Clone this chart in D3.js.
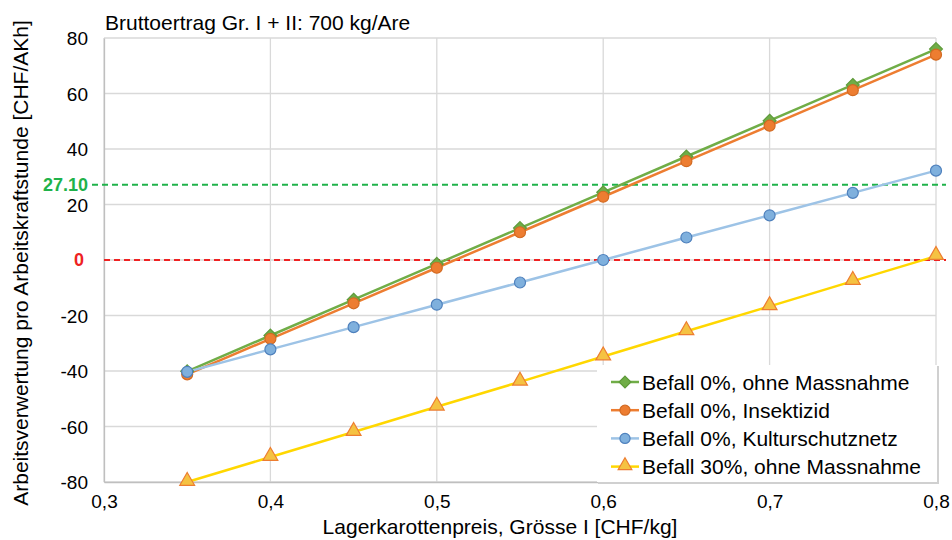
<!DOCTYPE html>
<html>
<head>
<meta charset="utf-8">
<script src="https://cdn.jsdelivr.net/npm/d3@7/dist/d3.min.js"></script>
<style>
  html, body { margin: 0; padding: 0; background: #fff; }
  svg { display: block; }
  svg text { font-family: "Liberation Sans", Arial, sans-serif; }
</style>
</head>
<body>
<svg id="chart" width="952" height="540"></svg>
<script>
// Carrot storage price (CHF/kg)
const prices = [0.35, 0.40, 0.45, 0.50, 0.55, 0.60, 0.65, 0.70, 0.75, 0.80];

// Labour return per working hour (CHF/AKh)
const befall0Ohne = [-40.1, -27.2, -14.3, -1.4, 11.5, 24.4, 37.3, 50.2, 63.1, 76.0];
const befall0Insektizid = [-41.2, -28.4, -15.6, -2.8, 10.0, 22.8, 35.6, 48.4, 61.2, 74.0];
const befall0Netz = [-40.3, -32.2, -24.2, -16.1, -8.1, 0.0, 8.1, 16.1, 24.2, 32.2];
const befall30Ohne = [-80.0, -71.0, -62.0, -52.9, -43.9, -34.8, -25.7, -16.7, -7.6, 1.4];

const seriesNames = [
  "Befall 0%, ohne Massnahme",
  "Befall 0%, Insektizid",
  "Befall 0%, Kulturschutznetz",
  "Befall 30%, ohne Massnahme"
];

const xTicks = [0.3, 0.4, 0.5, 0.6, 0.7, 0.8];
const yTicks = [-80, -60, -40, -20, 0, 20, 40, 60, 80];
const targetValue = 27.10;
const zeroValue = 0;

const title = "Bruttoertrag Gr. I + II: 700 kg/Are";
const xTitle = "Lagerkarottenpreis, Grösse I [CHF/kg]";
const yTitle = "Arbeitsverwertung pro Arbeitskraftstunde [CHF/AKh]";

const styles = [
  { line: "#70ad47", fill: "#70ad47", stroke: "#5e9a3a", symbol: d3.symbolDiamond2, size: 105 },
  { line: "#ed7d31", fill: "#ed7d31", stroke: "#d26a22", symbol: d3.symbolCircle, size: 95 },
  { line: "#9dc3e6", fill: "#7fb0dd", stroke: "#4f81bd", symbol: d3.symbolCircle, size: 95 },
  { line: "#ffd700", fill: "#f5c242", stroke: "#ed7d31", symbol: d3.symbolTriangle, size: 95 }
];
const seriesData = [befall0Ohne, befall0Insektizid, befall0Netz, befall30Ohne];

const FONT = "'Liberation Sans', Arial, sans-serif";
const svg = d3.select("#chart");
const m = { left: 104, right: 16, top: 38, bottom: 58 };
const W = 952, H = 540;

const x = d3.scaleLinear().domain([0.3, 0.8]).range([m.left, W - m.right]);
const y = d3.scaleLinear().domain([-80, 80]).range([H - m.bottom, m.top]);

// Gridlines
const grid = svg.append("g");
grid.selectAll("line.h").data(yTicks).join("line")
  .attr("x1", x(0.3)).attr("x2", x(0.8))
  .attr("y1", d => y(d)).attr("y2", d => y(d))
  .attr("stroke", "#d9d9d9").attr("stroke-width", 1.3);
grid.selectAll("line.v").data(xTicks).join("line")
  .attr("x1", d => x(d)).attr("x2", d => x(d))
  .attr("y1", y(-80)).attr("y2", y(80))
  .attr("stroke", "#d9d9d9").attr("stroke-width", 1.3);

// Axes
const xAxis = d3.axisBottom(x).tickValues(xTicks).tickSize(0).tickPadding(13)
  .tickFormat(d => d3.format(".1f")(d).replace(".", ","));
svg.append("g").attr("transform", `translate(0,${y(-80)})`).call(xAxis)
  .attr("font-family", FONT)
  .call(g => g.select(".domain").attr("stroke", "#bfbfbf").attr("stroke-width", 1.3))
  .call(g => g.selectAll("text").attr("font-size", 19).attr("fill", "#000"));

const yAxis = d3.axisLeft(y).tickValues(yTicks.filter(d => d !== 0)).tickSize(0).tickPadding(16)
  .tickFormat(d => String(d));
svg.append("g").attr("transform", `translate(${x(0.3)},0)`).call(yAxis)
  .attr("font-family", FONT)
  .call(g => g.select(".domain").attr("stroke", "#bfbfbf").attr("stroke-width", 1.3))
  .call(g => g.selectAll("text").attr("font-size", 19).attr("fill", "#000").attr("dy", "0.35em"));

// Reference lines
svg.append("line")
  .attr("x1", x(0.3) - 12).attr("x2", W - 6)
  .attr("y1", y(targetValue)).attr("y2", y(targetValue))
  .attr("stroke", "#1fb24a").attr("stroke-width", 2).attr("stroke-dasharray", "6,4");
svg.append("text").attr("x", x(0.3) - 16).attr("y", y(targetValue)).attr("dy", "0.35em")
  .attr("text-anchor", "end").attr("font-size", 18).attr("font-weight", "bold")
  .attr("fill", "#1fb24a").text(d3.format(".2f")(targetValue));

svg.append("line")
  .attr("x1", x(0.3)).attr("x2", W - 6)
  .attr("y1", y(zeroValue)).attr("y2", y(zeroValue))
  .attr("stroke", "#ee2222").attr("stroke-width", 2).attr("stroke-dasharray", "6,4");
svg.append("text").attr("x", x(0.3) - 20).attr("y", y(zeroValue)).attr("dy", "0.35em")
  .attr("text-anchor", "end").attr("font-size", 18).attr("font-weight", "bold")
  .attr("fill", "#ee2222").text(zeroValue);

// Series lines and markers
const line = d3.line().x((d, i) => x(prices[i])).y(d => y(d));
seriesData.forEach((vals, k) => {
  const st = styles[k];
  svg.append("path").datum(vals).attr("d", line)
    .attr("fill", "none").attr("stroke", st.line).attr("stroke-width", 2.5);
});
seriesData.forEach((vals, k) => {
  const st = styles[k];
  const sym = d3.symbol().type(st.symbol).size(st.size);
  svg.append("g").selectAll("path").data(vals).join("path")
    .attr("d", sym)
    .attr("transform", (d, i) => `translate(${x(prices[i])},${y(d) + (st.symbol === d3.symbolTriangle ? -1 : 0)})`)
    .attr("fill", st.fill).attr("stroke", st.stroke).attr("stroke-width", 1.2);
});

// Legend
const lg = svg.append("g").attr("transform", "translate(597,365)");
lg.append("rect").attr("x", 1).attr("y", 1).attr("width", 341).attr("height", 118)
  .attr("fill", "#d0d0d0");
lg.append("rect").attr("width", 340).attr("height", 117).attr("fill", "#fff");
seriesNames.forEach((name, k) => {
  const st = styles[k];
  const cy = 17 + k * 28.2;
  const row = lg.append("g").attr("transform", `translate(0,${cy})`);
  row.append("line").attr("x1", 14).attr("x2", 42).attr("y1", 0).attr("y2", 0)
    .attr("stroke", st.line).attr("stroke-width", 2.5);
  row.append("path").attr("d", d3.symbol().type(st.symbol).size(st.size * 0.85)())
    .attr("transform", `translate(28,${st.symbol === d3.symbolTriangle ? -1 : 0})`)
    .attr("fill", st.fill).attr("stroke", st.stroke).attr("stroke-width", 1.2);
  row.append("text").attr("x", 45).attr("dy", "0.36em").attr("font-size", 21)
    .attr("fill", "#000").text(name);
});

// Titles
svg.append("text").attr("x", 105).attr("y", 30).attr("font-size", 21)
  .attr("fill", "#000").text(title);
svg.append("text").attr("x", 500).attr("y", 534)
  .attr("text-anchor", "middle").attr("font-size", 21).attr("fill", "#000").text(xTitle);
svg.append("text").attr("transform", `translate(28,${(y(-80) + y(80)) / 2 + 3}) rotate(-90)`)
  .attr("text-anchor", "middle").attr("font-size", 21).attr("fill", "#000").text(yTitle);
</script>
</body>
</html>
